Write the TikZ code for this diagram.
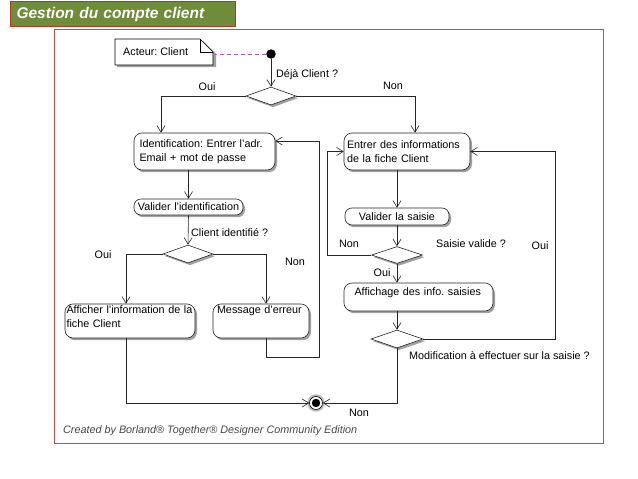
\documentclass[tikz,border=0pt]{standalone}
\usepackage{fontspec}
\setmainfont{Liberation Sans}
\usetikzlibrary{arrows.meta,shapes.geometric,shadows,backgrounds}
\definecolor{bannergreen}{RGB}{110,140,58}
\definecolor{bannerred}{RGB}{190,50,35}
\definecolor{framered}{RGB}{205,70,70}
\definecolor{notelink}{RGB}{175,90,200}
\definecolor{credit}{RGB}{70,70,70}
\frenchspacing
\begin{document}
\begin{tikzpicture}[x=1pt,y=-1pt,
  txt/.style={font=\fontsize{10.8}{14}\selectfont},
  shad/.style={drop shadow={shadow xshift=2pt,shadow yshift=-2.2pt,fill=black!50,opacity=.75}},
  act/.style={draw=black!85, line width=0.6pt, rounded corners=8pt, fill=white, shad, txt, inner xsep=0pt, inner ysep=0pt, align=left},
  actsmall/.style={act, rounded corners=7pt},
  dec/.style={diamond, draw=black!85, line width=0.6pt, fill=white, shad, minimum width=#1, minimum height=18pt, inner sep=0pt},
  flow/.style={draw=black!85, line width=0.6pt, -{Straight Barb[length=6.5pt,width=8pt]}},
  lbl/.style={txt, inner sep=0pt}
]
\useasboundingbox (0,0) rectangle (638,479);

% title banner
\node[fill=bannergreen, draw=bannerred, line width=1pt, anchor=north west,
      minimum width=225pt, minimum height=25pt, text width=213pt, inner xsep=6pt, align=left,
      text=white, font=\fontsize{15.5}{17}\selectfont\bfseries\itshape] (title) at (10,1) {Gestion du compte client};

% frame
\draw[framered, line width=0.8pt] (54.5,29) rectangle (603.5,443);

% note
\node[lbl, anchor=west] (note) at (123,52) {Acteur: Client};
\begin{scope}[on background layer]
  \fill[black!50, opacity=.75] (117,41) -- (203,41) -- (216,54) -- (216,67) -- (117,67) -- cycle;
  \draw[fill=white, line width=0.6pt] (115,39) -- (200,39) -- (213,52) -- (213,65) -- (115,65) -- cycle;
  \draw[line width=0.6pt] (200,39) -- (200,52) -- (213,52);
\end{scope}
\coordinate (noteE) at (213,54);

% initial / final
\node[circle, fill=black, minimum size=9.5pt, inner sep=0pt] (init) at (271,54) {};
\node[circle, draw=black, line width=0.6pt, fill=white, minimum size=13pt, inner sep=0pt,
      drop shadow={shadow xshift=0pt,shadow yshift=0pt,shadow scale=1.35,fill=black!40,opacity=.65}] (final) at (316,403) {};
\fill (final.center) circle (4.2pt);

% decisions
\node[dec=50pt] (d1) at (271,96) {};
\node[dec=50pt] (d2) at (188,254) {};
\node[dec=51pt, minimum height=17pt] (d3) at (397,255) {};
\node[dec=52pt] (d4) at (397,339) {};

% activities
\node[act, minimum width=141pt, minimum height=37pt, text width=130pt] (ident) at (204.5,151.5)
  {Identification: Entrer l'adr.\\Email + mot de passe};
\node[actsmall, minimum width=109pt, minimum height=16pt, text width=106pt, align=center] (validid) at (188.5,207)
  {Valider l'identification};
\node[act, minimum width=130pt, minimum height=34pt, text width=127pt, text height=8pt, text depth=24pt] (affich) at (130,321)
  {Afficher l'information de la\\fiche Client};
\node[act, minimum width=96pt, minimum height=34pt, text width=88pt, text height=8pt, text depth=24pt] (msg) at (261,321)
  {Message d'erreur};
\node[act, minimum width=126pt, minimum height=37pt, text width=120pt] (entrer) at (407,151.5)
  {Entrer des informations\\de la fiche Client};
\node[actsmall, minimum width=104pt, minimum height=17pt, text width=100pt, align=center] (valsais) at (397,216.5)
  {Valider la saisie};
\node[act, minimum width=149pt, minimum height=28pt, text width=128pt, text height=8pt, text depth=12pt] (affsais) at (418.5,297)
  {Affichage des info. saisies};

% helper columns
\coordinate (colA) at (161,0);
\coordinate (colB) at (126,0);
\coordinate (colC) at (266,0);
\coordinate (colD) at (319,357);
\coordinate (rowI) at (0,141);
\coordinate (colE) at (415,0);
\coordinate (colF) at (327,0);
\coordinate (colG) at (555,0);

% connectors
\draw[notelink, line width=0.8pt, dash pattern=on 4pt off 3pt] (noteE) -- (init);
\draw[flow] (init) -- (d1.north);
\draw[flow] (d1.west) -| (colA |- ident.north);
\draw[flow] (d1.east) -| (colE |- entrer.north);
\draw[flow] (validid.north |- ident.south) -- (validid.north);
\draw[flow] (validid.south) -- (d2.north);
\draw[flow] (d2.west) -| (colB |- affich.north);
\draw[flow] (d2.east) -| (colC |- msg.north);
\draw[flow] (colC |- msg.south) |- (colD) |- (ident.east |- rowI);
\draw[flow] (colB |- affich.south) |- (final.west);
\draw[flow] (valsais.north |- entrer.south) -- (valsais.north);
\draw[flow] (valsais.south) -- (d3.north);
\draw[flow] (d3.west) -- (d3.west -| colF) |- (entrer.west);
\draw[flow] (d3.south) -- (d3.south |- affsais.north);
\draw[flow] (d4.north |- affsais.south) -- (d4.north);
\draw[flow] (d4.east) -| (colG |- entrer.east) -- (entrer.east);
\draw[flow] (d4.south) |- (final.east);

% labels
\node[lbl, anchor=west] (l1) at (276,75) {Déjà Client ?};
\node[lbl] (l2) at (207,87) {Oui};
\node[lbl] (l3) at (393,86) {Non};
\node[lbl, anchor=west] (l4) at (191,233) {Client identifié ?};
\node[lbl] (l5) at (103,255) {Oui};
\node[lbl] (l6) at (295,262) {Non};
\node[lbl] (l7) at (349,244) {Non};
\node[lbl, anchor=west] (l8) at (436,244) {Saisie valide ?};
\node[lbl] (l9) at (540,246) {Oui};
\node[lbl] (l10) at (382,273) {Oui};
\node[lbl, anchor=west] (l11) at (409,356) {Modification à effectuer sur la saisie ?};
\node[lbl] (l12) at (359,413) {Non};
\node[lbl, anchor=west, text=credit, font=\fontsize{10.8}{13}\selectfont\itshape] (credit) at (63,431)
  {Created by Borland® Together® Designer Community Edition};
\end{tikzpicture}
\end{document}
